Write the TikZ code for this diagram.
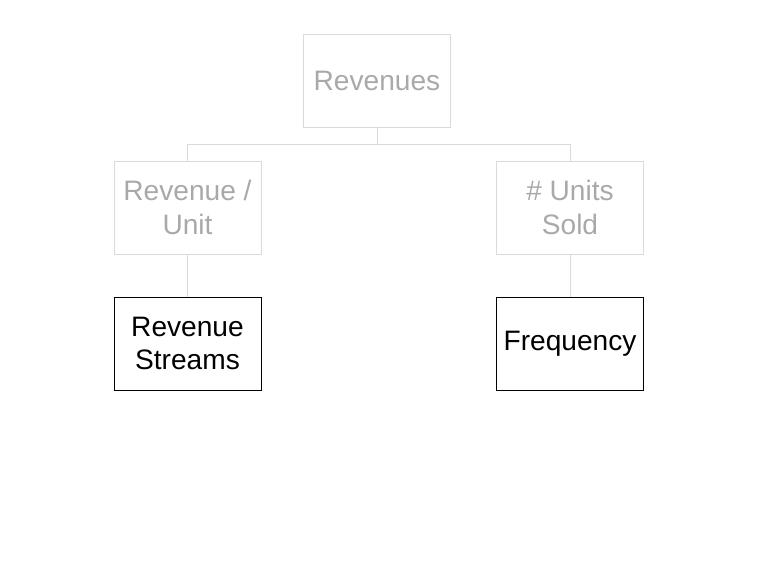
\documentclass[tikz,border=0pt]{standalone}
\usepackage{fontspec}
\setmainfont{Liberation Sans}
\definecolor{fadetext}{HTML}{A9A9A9}
\definecolor{fadeline}{HTML}{DADADA}
\begin{document}
\begin{tikzpicture}[every node/.style={font=\fontsize{20}{24}\selectfont, align=center},
  fadebox/.style={draw=fadeline, text=fadetext, minimum width=3.675cm, minimum height=2.325cm, inner sep=0pt},
  darkbox/.style={draw=black, text=black, minimum width=3.675cm, minimum height=2.325cm, inner sep=0pt},
  link/.style={draw=fadeline, line width=0.6pt}]
\useasboundingbox (0,0) rectangle (19.275,14.325);
% top level
\node[fadebox] (rev) at (9.425,12.3125) {Revenues};
% drivers
\node[fadebox] (unitrev) at (4.6875,9.1375) {Revenue /\\Unit};
\node[fadebox] (sold) at (14.25,9.1375) {\# Units\\Sold};
% leaves
\node[darkbox] (streams) at (4.6875,5.7375) {Revenue\\Streams};
\node[darkbox] (freq) at (14.25,5.7375) {Frequency};
\draw[link] (rev.south) -- ++(0,-0.425) -| (unitrev.north);
\draw[link] (rev.south) -- ++(0,-0.425) -| (sold.north);
\draw[link] (unitrev) -- (streams);
\draw[link] (sold) -- (freq);
\end{tikzpicture}
\end{document}
